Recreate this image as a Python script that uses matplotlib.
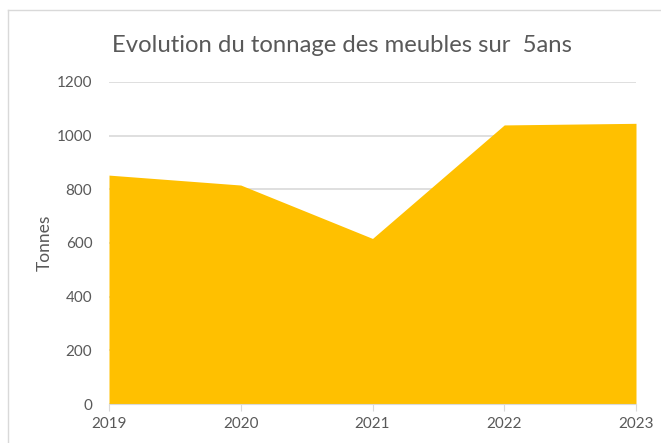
import matplotlib
matplotlib.use("Agg")
import matplotlib.pyplot as plt
from matplotlib.lines import Line2D

years = [2019, 2020, 2021, 2022, 2023]
tonnes = [853, 816, 617, 1040, 1046]
yticks = [0, 200, 400, 600, 800, 1000, 1200]

plt.rcParams['font.family'] = ['Lato', 'DejaVu Sans']

fig = plt.figure(figsize=(6.61, 4.43), dpi=100)
ax = fig.add_axes([109 / 661, 1 - 404 / 443, (636 - 109) / 661, (404 - 82) / 443])

ax.fill_between(years, tonnes, 0, color='#FFC000', linewidth=0, zorder=2)
ax.set_xlim(2019, 2023)
ax.set_ylim(0, 1200)
ax.set_yticks(yticks)
ax.set_xticks(years)
ax.grid(axis='y', color='#D9D9D9', linewidth=1.2, zorder=0)
for s in ['top', 'right', 'left']:
    ax.spines[s].set_visible(False)
ax.spines['bottom'].set_color('#D9D9D9')
ax.spines['bottom'].set_zorder(3)
ax.tick_params(axis='y', length=0, pad=12, labelsize=11, labelcolor='#595959')
ax.tick_params(axis='x', length=5, color='#D9D9D9', pad=4, labelsize=11, labelcolor='#595959')
ax.set_ylabel('Tonnes', fontsize=12.5, color='#595959', labelpad=3)

fig.text(342 / 661, 1 - 45 / 443, 'Evolution du tonnage des meubles sur  5ans',
         ha='center', va='center', fontsize=17.2, color='#595959')

# chart frame (top and left edges visible)
fig.add_artist(Line2D([8 / 661, 1], [1 - 10 / 443, 1 - 10 / 443], color='#D9D9D9', linewidth=1))
fig.add_artist(Line2D([8 / 661, 8 / 661], [1 - 10 / 443, 0], color='#D9D9D9', linewidth=1))

fig.savefig('out.png', dpi=100)
